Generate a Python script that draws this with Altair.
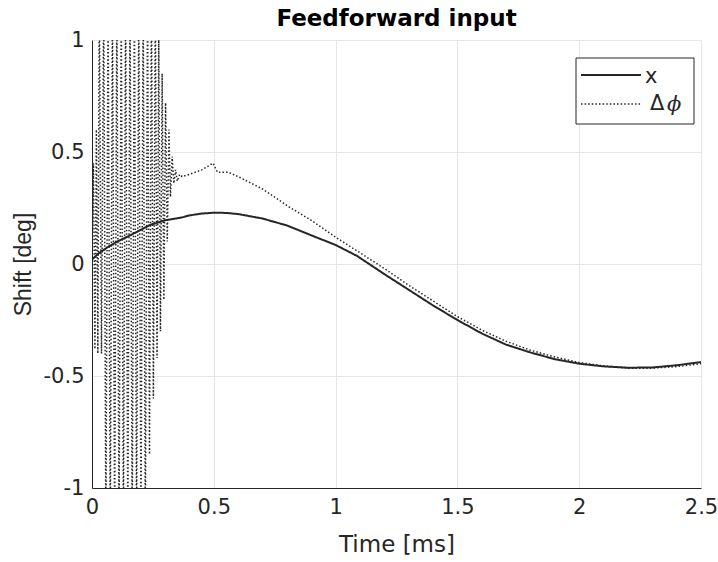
import altair as alt
import pandas as pd

# solid series "x"
t_x = [0.0, 0.03, 0.066, 0.1, 0.16, 0.24, 0.3, 0.37, 0.4, 0.45, 0.5, 0.55, 0.6, 0.7, 0.8, 0.85, 0.9, 1.0, 1.088,
       1.2, 1.3, 1.35, 1.4, 1.5, 1.6, 1.7, 1.8, 1.9, 2.0, 2.1, 2.2, 2.3, 2.4, 2.5]
v_x = [0.02, 0.05, 0.076, 0.098, 0.13, 0.175, 0.195, 0.208, 0.217, 0.225, 0.229, 0.228, 0.223, 0.203, 0.172, 0.15, 0.128, 0.085, 0.036,
       -0.045, -0.115, -0.15, -0.185, -0.25, -0.31, -0.36, -0.395, -0.425, -0.445, -0.457, -0.463, -0.462, -0.452, -0.438]

# dotted series "Δϕ" (values beyond ±1 are clipped by the axes)
t_p = [0.000, 0.006, 0.012, 0.018, 0.024, 0.030, 0.039, 0.048, 0.057, 0.066, 0.075, 0.084, 0.093, 0.102,
       0.111, 0.120, 0.129, 0.138, 0.147, 0.156, 0.165, 0.174, 0.183, 0.192, 0.201, 0.210, 0.219, 0.228,
       0.236, 0.244, 0.252, 0.260, 0.267, 0.274, 0.281, 0.288, 0.295, 0.302, 0.309, 0.316, 0.322, 0.329,
       0.336, 0.343, 0.350, 0.360, 0.370, 0.400, 0.450, 0.497, 0.515, 0.56, 0.60, 0.70, 0.81, 0.90, 1.0,
       1.1, 1.2, 1.3, 1.4, 1.5, 1.6, 1.7, 1.8, 1.9, 2.0, 2.1, 2.2, 2.3, 2.4, 2.5]
v_p = [0.0, 0.45, -0.38, 0.6, -0.40, 1.2, -0.40, 1.2, -1.2, 1.2, -1.2, 1.2, -1.2, 1.2,
       -1.2, 1.2, -1.2, 1.2, -1.2, 1.2, -1.2, 1.2, -1.2, 1.2, -1.2, 1.2, -1.2, 1.2,
       -0.85, 1.2, -0.6, 1.2, -0.42, 1.0, -0.3, 0.85, -0.16, 0.72, 0.10, 0.6, 0.30, 0.48,
       0.36, 0.42, 0.37, 0.40, 0.39, 0.40, 0.42, 0.45, 0.41, 0.41, 0.39, 0.335, 0.254, 0.195, 0.12,
       0.05, -0.02, -0.095, -0.165, -0.235, -0.295, -0.345, -0.385, -0.415, -0.44, -0.455, -0.465, -0.465, -0.458, -0.445]

series = ["x", "Δϕ"]
x_ticks = [0, 0.5, 1, 1.5, 2, 2.5]
y_ticks = [-1, -0.5, 0, 0.5, 1]

INK = "#262626"

df = pd.concat([
    pd.DataFrame({"t": t_x, "v": v_x, "s": series[0], "o": range(len(t_x))}),
    pd.DataFrame({"t": t_p, "v": v_p, "s": series[1], "o": range(len(t_p))}),
])

lines = alt.Chart(df).mark_line(clip=True, color=INK, strokeCap="butt").encode(
    x=alt.X("t:Q", scale=alt.Scale(domain=[0, 2.5], nice=False),
            axis=alt.Axis(title="Time [ms]", values=x_ticks, format="~g", titlePadding=16)),
    y=alt.Y("v:Q", scale=alt.Scale(domain=[-1, 1], nice=False),
            axis=alt.Axis(title="Shift [deg]", values=y_ticks, format="~g", titlePadding=8,
                          labelExpr="replace(datum.label, '\u2212', '-')")),
    order="o:Q",
    detail="s:N",
    strokeDash=alt.StrokeDash("s:N", scale=alt.Scale(domain=series, range=[[1, 0], [1.5, 2.1]]), legend=None),
    strokeWidth=alt.StrokeWidth("s:N", scale=alt.Scale(domain=series, range=[2, 1.5]), legend=None),
)

# legend drawn as a small box with line samples
one = pd.DataFrame({"k": [0]})
box = alt.Chart(one).mark_rect(fill="white", stroke=INK, strokeWidth=1).encode(
    x=alt.value(484), x2=alt.value(602), y=alt.value(18), y2=alt.value(84))
leg_solid = alt.Chart(one).mark_rule(color=INK, strokeWidth=2).encode(
    x=alt.value(489), x2=alt.value(549), y=alt.value(35))
leg_dot = alt.Chart(one).mark_rule(color=INK, strokeWidth=1.5, strokeDash=[1.5, 2.1], strokeCap="butt").encode(
    x=alt.value(489), x2=alt.value(549), y=alt.value(64))
leg_x = alt.Chart(one).mark_text(text=series[0], font="DejaVu Sans", fontSize=21, color=INK,
                                 align="left", baseline="middle").encode(
    x=alt.value(553), y=alt.value(37))
leg_d = alt.Chart(one).mark_text(text="Δ", font="DejaVu Sans", fontSize=21, color=INK,
                                 align="left", baseline="middle").encode(
    x=alt.value(558), y=alt.value(64))
leg_phi = alt.Chart(one).mark_text(text="ϕ", font="DejaVu Serif", fontStyle="italic", fontSize=21, color=INK,
                                   align="left", baseline="middle").encode(
    x=alt.value(575), y=alt.value(65))

chart = alt.layer(lines, box, leg_solid, leg_dot, leg_x, leg_d, leg_phi).properties(
    width=609, height=448,
    title=alt.TitleParams("Feedforward input", fontSize=23, fontWeight="bold", color="#000000",
                          font="DejaVu Sans", offset=-2),
    autosize=alt.AutoSizeParams(type="none"),
    padding={"left": 92, "top": 40, "right": 17, "bottom": 74},
).configure_view(stroke=None).configure_axis(
    labelFont="DejaVu Sans", titleFont="DejaVu Sans",
    labelFontSize=21, titleFontSize=23, labelColor=INK, titleColor=INK,
    titleFontWeight="normal", gridColor="#e6e6e6", gridWidth=1,
    domainColor=INK, domainWidth=1, ticks=False, labelPadding=8,
    labelFlush=False,
).configure_axisY(titleFont="Liberation Sans")

chart.save("out.html", embed_options={"renderer": "svg", "actions": False})
